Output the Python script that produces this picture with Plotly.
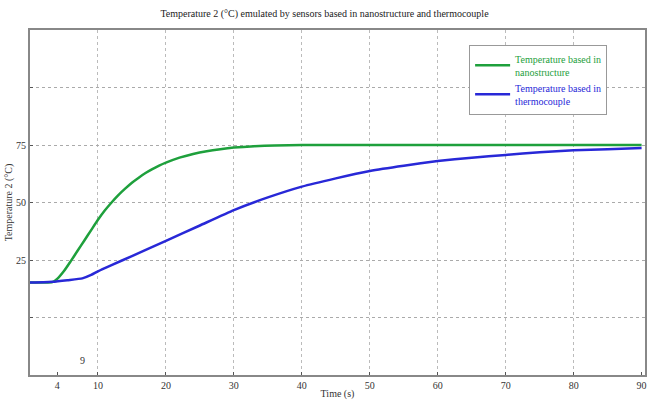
import plotly.graph_objects as go

time_green = [0, 2, 3.3, 4, 5, 6, 7, 8, 9, 10, 11, 12, 13, 14, 15, 16, 17, 18, 19, 20, 22, 24, 26, 28, 30, 33, 36, 40, 50, 60, 70, 80, 90]
temp_green = [15.2, 15.2, 15.4, 16.8, 20.2, 24.5, 29, 33.5, 38, 42.5, 46.5, 50, 53.2, 56, 58.6, 60.8, 62.8, 64.5, 66, 67.3, 69.5, 71.1, 72.3, 73.2, 73.9, 74.5, 74.8, 75, 75, 75, 75, 75, 75]

time_blue = [0, 2, 3.3, 5.5, 7.7, 9, 10, 12, 15, 20, 25, 30, 35, 40, 45, 50, 55, 60, 65, 70, 75, 80, 85, 90]
temp_blue = [15.2, 15.3, 15.5, 16.2, 17.0, 18.5, 20.1, 22.8, 26.7, 33.3, 40.0, 46.7, 52.2, 56.9, 60.5, 63.7, 66.0, 68.0, 69.5, 70.7, 71.8, 72.7, 73.2, 73.7]

x_ticks = [4, 10, 20, 30, 40, 50, 60, 70, 80, 90]
x_grid = [10, 20, 30, 40, 50, 60, 70, 80]
y_ticks = [-25, 0, 25, 50, 75, 100, 125]
y_ticktext = ["", "", "25", "50", "75", "", ""]

GREEN = "rgb(30,160,60)"
BLUE = "rgb(40,40,215)"
FONT = "Liberation Serif, Times New Roman, serif"

fig = go.Figure()
fig.add_trace(go.Scatter(
    x=time_green, y=temp_green, mode="lines",
    line=dict(color=GREEN, width=2.5, shape="spline", smoothing=0.5),
    name=f"<span style='color:{GREEN}'>Temperature based in<br>nanostructure</span>"))
fig.add_trace(go.Scatter(
    x=time_blue, y=temp_blue, mode="lines",
    line=dict(color=BLUE, width=2.5, shape="spline", smoothing=0.5),
    name=f"<span style='color:{BLUE}'>Temperature based in<br>thermocouple</span>"))

fig.add_annotation(x=7.7, y=-25, yshift=15, text="9", showarrow=False,
                   font=dict(family=FONT, size=10, color="#333"))

fig.update_layout(
    width=649, height=406,
    margin=dict(l=30, r=4, t=30, b=31, autoexpand=False),
    paper_bgcolor="white", plot_bgcolor="white",
    title=dict(text="Temperature 2 (°C) emulated by sensors based in nanostructure and thermocouple",
               x=0.5, xanchor="center", y=0.975, yanchor="top",
               font=dict(family=FONT, size=10, color="#222")),
    font=dict(family=FONT, size=10, color="#333"),
    showlegend=True,
    legend=dict(x=0.714, y=0.957, xanchor="left", yanchor="top",
                bgcolor="white", bordercolor="#999", borderwidth=1,
                font=dict(family=FONT, size=10), tracegroupgap=2,
                itemwidth=35),
    xaxis=dict(range=[0, 90.5], tickvals=x_ticks, showgrid=False,
               title=dict(text="Time (s)", font=dict(family=FONT, size=10), standoff=0),
               showline=True, linecolor="#888", linewidth=2, mirror=True,
               ticks="inside", ticklen=3, tickcolor="#555", zeroline=False,
               tickfont=dict(family=FONT, size=10),
               minor=dict(tickvals=x_grid, showgrid=True, griddash="dot",
                          gridcolor="#bbb", gridwidth=1)),
    yaxis=dict(range=[-25, 125], tickvals=y_ticks, ticktext=y_ticktext,
               showgrid=True, griddash="dot", gridcolor="#aaa", gridwidth=1,
               title=dict(text="Temperature 2 (°C)", font=dict(family=FONT, size=10), standoff=2),
               showline=True, linecolor="#888", linewidth=2, mirror=True,
               ticks="inside", ticklen=3, tickcolor="#555", zeroline=False,
               tickfont=dict(family=FONT, size=10)),
)

fig.write_html("out.html", config={"displayModeBar": False},
               post_script="document.body.style.margin='0';document.body.style.overflow='hidden';")
